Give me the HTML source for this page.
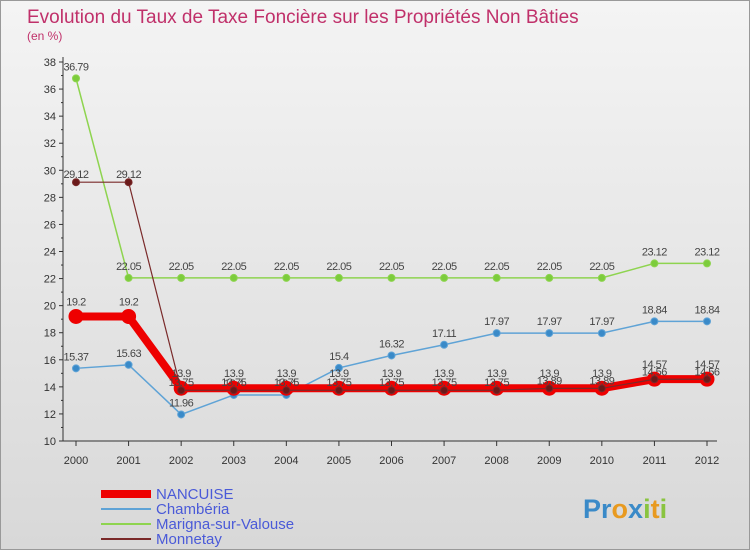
<!DOCTYPE html>
<html><head><meta charset="utf-8"><style>
body{margin:0;width:750px;height:550px;overflow:hidden;font-family:"Liberation Sans",sans-serif;}
#wrap{position:relative;width:748px;height:548px;border:1px solid #999;background:linear-gradient(#f4f4f4,#d8d8d8);}
</style></head><body>
<div id="wrap">
<svg id="chart" width="748" height="548"></svg>
</div>
<script>
const years=[2000,2001,2002,2003,2004,2005,2006,2007,2008,2009,2010,2011,2012];
const nancuise=[19.2,19.2,13.9,13.9,13.9,13.9,13.9,13.9,13.9,13.9,13.9,14.57,14.57];
const chamberia=[15.37,15.63,11.96,13.4,13.4,15.4,16.32,17.11,17.97,17.97,17.97,18.84,18.84];
const marigna=[36.79,22.05,22.05,22.05,22.05,22.05,22.05,22.05,22.05,22.05,22.05,23.12,23.12];
const monnetay=[29.12,29.12,13.75,13.75,13.75,13.75,13.75,13.75,13.75,13.89,13.89,14.56,14.56];
const yTicks=[10,12,14,16,18,20,22,24,26,28,30,32,34,36,38];
const NS="http://www.w3.org/2000/svg";
const svg=document.getElementById('chart');
const x=i=>75+i*(631/12);
const y=v=>440-(v-10)*(379/28);
function el(t,a,p){const e=document.createElementNS(NS,t);for(const k in a)e.setAttribute(k,a[k]);(p||svg).appendChild(e);return e;}
let t=el('text',{x:26,y:22,'font-size':19,fill:'#c0306a'});t.textContent='Evolution du Taux de Taxe Foncière sur les Propriétés Non Bâties';

t=el('text',{x:26,y:39,'font-size':12,fill:'#c0306a'});t.textContent='(en %)';

let ax=el('line',{x1:62,y1:56,x2:62,y2:440,stroke:'#333'});

ax=el('line',{x1:62,y1:440,x2:716,y2:440,stroke:'#333'});

yTicks.forEach(v=>{
 el('line',{x1:58,x2:62,y1:y(v),y2:y(v),stroke:'#333'});
 if(v<38) el('line',{x1:60,x2:62,y1:y(v+1),y2:y(v+1),stroke:'#333'});
 const tx=el('text',{x:55,y:y(v)+4,'font-size':11,'text-anchor':'end',fill:'#333'});tx.textContent=v;
 
});
years.forEach((yr,i)=>{
 el('line',{x1:x(i),x2:x(i),y1:440,y2:445,stroke:'#333'});
 const tx=el('text',{x:x(i),y:463,'font-size':11,'text-anchor':'middle',fill:'#333'});tx.textContent=yr;
 
});
function series(data,name,color,w,r,fillc,labelDy){
 const g=el('g',{});
 el('polyline',{points:data.map((v,i)=>x(i)+','+y(v)).join(' '),fill:'none',stroke:color,'stroke-width':w},g);
 data.forEach((v,i)=>{
  const c=el('circle',{cx:x(i),cy:y(v),r:r,fill:fillc,stroke:color,'stroke-width':1},g);
  
  const tx=el('text',{x:x(i),y:y(v)+labelDy,'font-size':11,'text-anchor':'middle',fill:'#444','letter-spacing':'-0.5'},g);tx.textContent=v;
  
 });
}
series(marigna,'marigna','#8ed44f',1.5,3.5,'#7ccc3c',-8);
series(chamberia,'chamberia','#5fa3d6',1.5,3.5,'#3a8ac8',-8);
series(nancuise,'nancuise','#ee0000',8,7,'#ee0000',-11);
series(monnetay,'monnetay','#7a2a2a',1.2,3.5,'#6a1a1a',-4);
const leg=[['NANCUISE','#ee0000',8],['Chambéria','#5fa3d6',2],['Marigna-sur-Valouse','#8ed44f',2],['Monnetay','#7a2a2a',2]];
leg.forEach((l,i)=>{
 const g=el('g',{});
 const yy=493+i*15;
 el('line',{x1:100,x2:150,y1:yy,y2:yy,stroke:l[1],'stroke-width':l[2]},g);
 const tx=el('text',{x:155,y:yy+5,'font-size':15,fill:'#4a5ad8'},g);tx.textContent=l[0];
});
const lg=el('g',{});
const lt=el('text',{x:582,y:517,'font-size':27,'font-weight':'bold',fill:'#3a9ad0'},lg);
lt.innerHTML='<tspan fill="#3a8ac8">Pr</tspan><tspan fill="#e89a20">o</tspan><tspan fill="#3a8ac8">x</tspan><tspan fill="#8ac440">i</tspan><tspan fill="#e89a20">t</tspan><tspan fill="#8ac440">i</tspan>';
</script>
</body></html>
